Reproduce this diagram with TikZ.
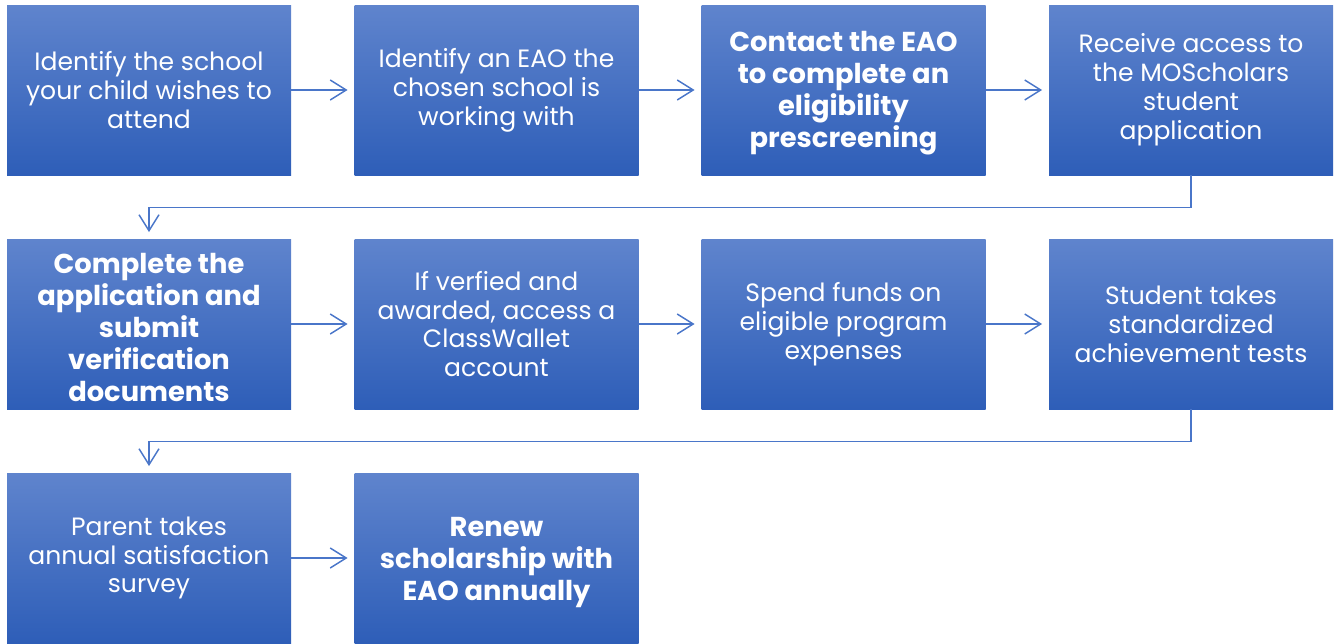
\documentclass[tikz,border=0pt]{standalone}
\usepackage{fontspec}
\setmainfont{Poppins}
\usetikzlibrary{arrows.meta}
\definecolor{boxtop}{HTML}{5F84CD}
\definecolor{boxbot}{HTML}{2E5EB8}
\definecolor{linkblue}{HTML}{4A76C9}
% taller strut on the first line sets the bold text a little lower
\newcommand{\padstrut}{\rule{0pt}{\dimexpr\fontcharht\font`h+6pt\relax}}

\begin{document}
\begin{tikzpicture}[x=0.75pt, y=-0.75pt,
	stage/.style={rectangle, top color=boxtop, bottom color=boxbot, text=white, minimum width=213pt, minimum height=127.5pt, align=center, inner sep=0pt, font=\fontsize{18.8}{21.7}\selectfont},
	keystage/.style={stage, font=\fontsize{20.5}{24}\selectfont\bfseries},
	flow/.style={-{Straight Barb[length=12pt, width=15pt]}, draw=linkblue, line width=1.1pt, shorten >=5pt}]
	\useasboundingbox (0, 0) rectangle (1335, 643);

	\node[stage] (school) at (149, 90) {Identify the school\\your child wishes to\\attend};
	\node[stage] (eao) at (496.5, 90) {Identify an EAO the\\chosen school is\\working with};
	\node[keystage] (contact) at (843.5, 90) {\padstrut Contact the EAO\\to complete an\\eligibility\\prescreening};
	\node[stage] (access) at (1191, 90) {Receive access to\\the MOScholars\\student\\application};

	\node[keystage] (apply) at (149, 324) {\padstrut Complete the\\application and\\submit\\verification\\documents};
	\node[stage] (wallet) at (496.5, 324) {If verfied and\\awarded, access a\\ClassWallet\\account};
	\node[stage] (spend) at (843.5, 324) {Spend funds on\\eligible program\\expenses};
	\node[stage] (tests) at (1191, 324) {Student takes\\standardized\\achievement tests};

	\node[stage] (survey) at (149, 558) {Parent takes\\annual satisfaction\\survey};
	\node[keystage] (renew) at (496.5, 558) {\padstrut Renew\\scholarship with\\EAO annually};

	\draw[flow] (school) -- (eao);
	\draw[flow] (eao) -- (contact);
	\draw[flow] (contact) -- (access);
	\draw[flow] (access.south) -- ++(0, 32) -| (apply.north);

	\draw[flow] (apply) -- (wallet);
	\draw[flow] (wallet) -- (spend);
	\draw[flow] (spend) -- (tests);
	\draw[flow] (tests.south) -- ++(0, 32) -| (survey.north);

	\draw[flow] (survey) -- (renew);
\end{tikzpicture}
\end{document}
